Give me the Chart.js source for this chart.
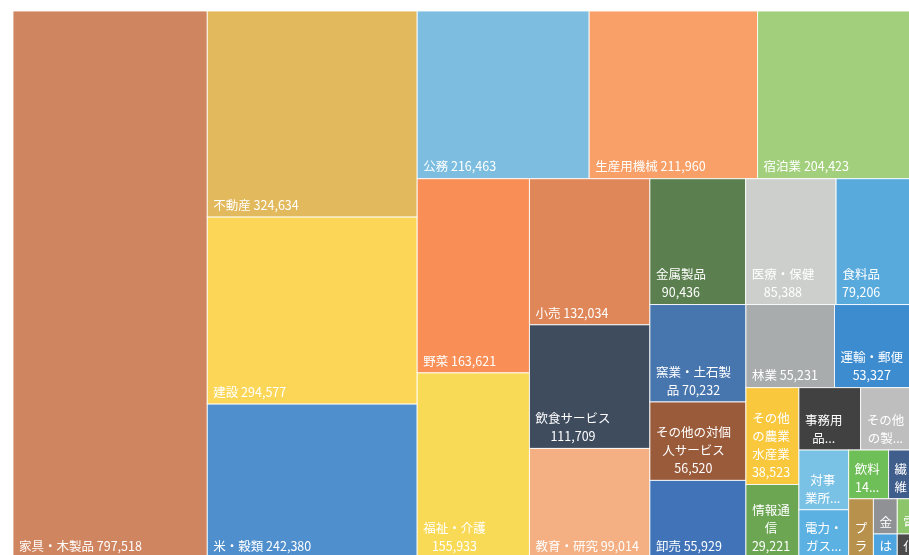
<!DOCTYPE html>
<html lang="ja">
<head>
<meta charset="utf-8">
<title>産業別 ツリーマップ</title>
<script src="https://cdn.jsdelivr.net/npm/chart.js@4.4.0/dist/chart.umd.min.js"></script>
<style>
  html, body { margin: 0; padding: 0; background: #fff; overflow: hidden; }
  canvas { display: block; }
</style>
</head>
<body>
<canvas id="treemap" width="930" height="570"></canvas>
<script>
// 産業別の金額（大きい順）
const categories = [
    "家具・木製品", "不動産", "建設", "米・穀類", "公務", "生産用機械", "宿泊業",
    "野菜", "福祉・介護", "小売", "飲食サービス", "教育・研究", "金属製品", "医療・保健",
    "食料品", "窯業・土石製品", "その他の対個人サービス", "卸売", "林業", "運輸・郵便",
    "その他の農業水産業", "情報通信", "事務用品", "その他の製造業", "対事業所サービス",
    "電力・ガス・水道", "飲料", "繊維製品", "プラスチック製品", "金融・保険", "電気機械",
    "はん用機械", "化学製品"
];
const values = [
    797518, 324634, 294577, 242380, 216463, 211960, 204423,
    163621, 155933, 132034, 111709, 99014, 90436, 85388,
    79206, 70232, 56520, 55929, 55231, 53327,
    38523, 29221, 28900, 27800, 22300,
    18000, 14600, 11500, 11000, 6300, 6000,
    4300, 4100
];
const cellColors = [
    "#CF8560", "#E2B95C", "#FCD757", "#4F8FCD", "#7DBEE0", "#F9A068", "#A2CF7B",
    "#F98E56", "#F9DA56", "#E0875A", "#3E4C5E", "#F4AF82", "#5B7F4E", "#CDCFCC",
    "#58AADD", "#4775AD", "#9A5B3B", "#4073B8", "#A9ACAC", "#3D8CD0",
    "#F9C83C", "#6CA653", "#414141", "#BEBEBE", "#7AC2E5",
    "#5CB1E3", "#6FBF58", "#405E8B", "#B8924C", "#8F9194", "#8DC56B",
    "#4DA4DE", "#4B4B4B"
];

// 帯の並べ方: [向き, 個数]  col = 縦の帯, row = 横の帯
const strips = [
    ["col", 1], ["col", 3], ["row", 3], ["col", 2], ["col", 3], ["row", 3],
    ["col", 3], ["row", 2], ["col", 2], ["row", 2], ["col", 2], ["row", 2],
    ["col", 1], ["row", 2], ["row", 2]
];

const LABEL_FONT = "12.5px 'Noto Sans CJK JP', 'Noto Sans', sans-serif";
const LINE_H = 18;
const PAD_LEFT = 6;
const WRAP_GAP = 14;
const NO_LINE_START = "・、。ー）」";

// 0..1 の正方形の中で帯ごとに面積を割り当てる
function layoutStrips(vals, plan) {
    const rects = [];
    let x0 = 0, y0 = 0, x1 = 1, y1 = 1;
    let rest = vals.reduce((a, b) => a + b, 0);
    let i = 0;
    plan.forEach(([dir, n]) => {
        const group = vals.slice(i, i + n);
        const sum = group.reduce((a, b) => a + b, 0);
        const share = sum / rest;
        if (dir === "col") {
            const xe = x0 + (x1 - x0) * share;
            let yy = y0;
            group.forEach(v => {
                const ye = yy + (y1 - y0) * v / sum;
                rects.push({ x0: x0, x1: xe, y0: yy, y1: ye });
                yy = ye;
            });
            x0 = xe;
        } else {
            const ye = y0 + (y1 - y0) * share;
            let xx = x0;
            group.forEach(v => {
                const xe = xx + (x1 - x0) * v / sum;
                rects.push({ x0: xx, x1: xe, y0: y0, y1: ye });
                xx = xe;
            });
            y0 = ye;
        }
        rest -= sum;
        i += n;
    });
    return rects;
}

const cells = layoutStrips(values, strips);

// 文字単位で折り返す（数値は1つの塊として扱う）
function wrapLabel(ctx, name, num, maxW) {
    const units = Array.from(name);
    units.push(" " + num);
    const lines = [];
    let cur = "";
    units.forEach(u => {
        if (cur === "") {
            cur = u.trimStart();
            return;
        }
        const trial = cur + u;
        if (ctx.measureText(trial).width <= maxW || NO_LINE_START.includes(u)) {
            cur = trial;
        } else {
            lines.push(cur);
            cur = u.trimStart();
        }
    });
    if (cur) lines.push(cur);
    return lines;
}

function fitLine(ctx, text, maxW, forceDots) {
    if (!forceDots) {
        // 行末の「・」はぶら下げてよい
        let body = text;
        while (body.length > 1 && NO_LINE_START.includes(body[body.length - 1])) {
            body = body.slice(0, -1);
        }
        if (ctx.measureText(body).width <= maxW) return text;
    }
    let chars = Array.from(text);
    while (chars.length > 1 && ctx.measureText(chars.join("") + "...").width > maxW) {
        chars.pop();
    }
    const withDots = chars.join("") + "...";
    if (ctx.measureText(withDots).width <= maxW) return withDots;
    return chars.join("");
}

const treemapCells = {
    id: "treemapCells",
    afterDatasetsDraw(chart) {
        const ctx = chart.ctx;
        const xs = chart.scales.x;
        const ys = chart.scales.y;
        ctx.save();
        cells.forEach((c, i) => {
            const left = xs.getPixelForValue(c.x0);
            const right = xs.getPixelForValue(c.x1);
            const top = ys.getPixelForValue(c.y0);
            const bottom = ys.getPixelForValue(c.y1);
            const w = right - left;
            const h = bottom - top;

            ctx.fillStyle = cellColors[i];
            ctx.fillRect(left, top, w, h);
            ctx.strokeStyle = "rgba(255,255,255,0.85)";
            ctx.lineWidth = 1;
            ctx.strokeRect(left, top, w, h);

            // ラベル
            ctx.font = LABEL_FONT;
            const maxW = w - WRAP_GAP;
            let lines = wrapLabel(ctx, categories[i], values[i].toLocaleString("en-US"), maxW);
            const maxLines = Math.max(1, Math.floor((h - 10) / LINE_H));
            if (lines.length > maxLines) {
                lines = lines.slice(0, maxLines);
                lines[maxLines - 1] = fitLine(ctx, lines[maxLines - 1], maxW, true);
            }
            lines = lines.map(l => fitLine(ctx, l, maxW, false));
            const blockW = Math.max(...lines.map(l => ctx.measureText(l).width));
            const cx = left + PAD_LEFT + blockW / 2;

            ctx.save();
            ctx.beginPath();
            ctx.rect(left, top, w, h);
            ctx.clip();
            ctx.fillStyle = "#ffffff";
            ctx.textAlign = "center";
            ctx.textBaseline = "middle";
            lines.forEach((l, k) => {
                const cy = bottom - 12 - LINE_H * (lines.length - 1 - k);
                ctx.fillText(l, cx, cy);
            });
            ctx.restore();
        });
        ctx.restore();
    }
};

new Chart(document.getElementById("treemap"), {
    type: "scatter",
    data: {
        datasets: [{
            label: "産業",
            data: cells.map(c => ({ x: (c.x0 + c.x1) / 2, y: (c.y0 + c.y1) / 2 })),
            pointRadius: 0,
            pointHoverRadius: 0
        }]
    },
    options: {
        responsive: false,
        animation: false,
        layout: { padding: { left: 13, top: 11, right: 10, bottom: 12 } },
        scales: {
            x: { type: "linear", min: 0, max: 1, display: false },
            y: { type: "linear", min: 0, max: 1, reverse: true, display: false }
        },
        plugins: {
            legend: { display: false },
            tooltip: { enabled: false }
        }
    },
    plugins: [treemapCells]
});
</script>
</body>
</html>
